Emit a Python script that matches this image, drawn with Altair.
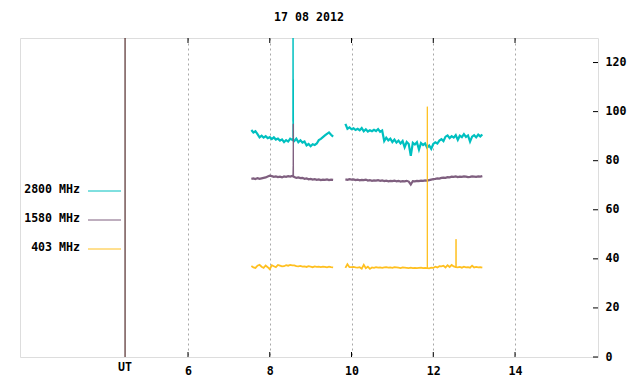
import altair as alt
import pandas as pd

TITLE = "17 08 2012"
X_TICKS = [6, 8, 10, 12, 14]
Y_TICKS = [0, 20, 40, 60, 80, 100, 120]
UT_POS = 4.46
X_DOMAIN = [1.89, 16.03]
Y_DOMAIN = [0, 130]

SERIES = ["2800 MHz", "1580 MHz", "403 MHz"]
COLORS = ["#00c0c0", "#7f5f7f", "#ffc020"]

T1 = [7.55, 7.60, 7.65, 7.70, 7.75, 7.80, 7.85, 7.90, 7.95, 8.00, 8.05, 8.10, 8.15, 8.20,
      8.25, 8.30, 8.35, 8.40, 8.45, 8.50, 8.55, 8.60, 8.65, 8.70, 8.75, 8.80, 8.85, 8.90,
      8.95, 9.00, 9.05, 9.10, 9.15, 9.20, 9.25, 9.30, 9.35, 9.40, 9.45, 9.50, 9.55]
T2 = [9.85, 9.90, 9.95, 10.00, 10.05, 10.10, 10.15, 10.20, 10.25, 10.30, 10.35, 10.40,
      10.45, 10.50, 10.55, 10.60, 10.65, 10.70, 10.75,
      10.80, 10.85, 10.90, 10.95, 11.00, 11.05, 11.10, 11.15, 11.20, 11.25, 11.30, 11.35,
      11.40, 11.45, 11.50, 11.55, 11.60, 11.65, 11.70, 11.75, 11.80,
      11.85, 11.90, 11.95, 12.00, 12.05, 12.10, 12.15, 12.20, 12.25, 12.30, 12.35, 12.40,
      12.45, 12.50, 12.55, 12.60, 12.65, 12.70, 12.75, 12.80, 12.85,
      12.90, 12.95, 13.00, 13.05, 13.10, 13.15, 13.20]

F2800_S1 = [92.5, 91.5, 92.0, 90.8, 89.5, 90.2, 89.4, 90.0, 89.2, 89.6, 88.8, 89.5, 88.6, 89.0,
            88.2, 88.7, 87.6, 88.4, 87.8, 89.0, 88.5, 88.0, 89.0, 87.5, 88.3, 87.4, 87.8, 86.2,
            86.8, 85.9, 86.7, 86.4, 87.0, 88.4, 88.9, 89.6, 90.3, 90.9, 91.5, 90.6, 89.8]
F2800_S2 = [95.0, 93.0, 93.6, 92.8, 93.2, 92.5, 93.0, 92.4, 93.3, 92.0, 92.8, 91.9, 92.4, 92.0,
            92.6, 92.1, 92.9, 91.8, 92.3,
            88.0, 89.4, 88.3, 89.0, 87.6, 88.6, 87.4, 88.2, 87.0, 88.0, 85.5, 87.6, 86.8, 82.0,
            87.3, 86.6, 87.5, 84.5, 87.2, 86.4, 87.0,
            85.3, 86.2, 84.8, 86.8, 87.5, 87.0, 88.2, 88.8, 88.0, 89.8, 90.3, 89.2, 90.0, 89.4,
            90.4, 88.5, 90.2, 89.6, 90.8, 89.7, 90.3,
            87.8, 89.8, 90.4, 89.5, 90.6, 89.9, 90.7]
F2800_SPIKE_T = [8.55, 8.565, 8.570, 8.576, 8.579, 8.583, 8.60]
F2800_SPIKE_V = [88.5, 89.5, 135.0, 96.0, 113.0, 88.5, 88.0]

F1580_S1 = [72.6, 72.8, 72.5, 72.9, 72.6, 72.8, 73.0, 73.2, 73.6, 73.9, 73.7, 73.4, 73.6, 73.3,
            73.5, 73.2, 73.6, 73.4, 73.7, 73.5, 73.8, 73.4, 73.0, 73.2, 72.9, 73.0, 72.6, 72.8,
            72.4, 72.6, 72.3, 72.5, 72.2, 72.4, 72.1, 72.3, 72.2, 72.4, 72.1, 72.3, 72.2]
F1580_S2 = [72.4, 72.2, 72.5, 72.3, 72.4, 72.1, 72.3, 72.0, 72.2, 72.1, 72.3, 71.9, 72.1, 71.8,
            72.0, 71.9, 72.1, 71.8, 72.0,
            71.7, 71.9, 71.6, 71.8, 71.7, 71.9, 71.6, 71.8, 71.5, 71.7, 71.6, 71.8, 71.5, 70.3,
            71.7, 71.6, 71.8, 71.7, 71.9, 71.8, 72.0,
            71.9, 72.1, 72.3, 72.5, 72.6, 72.8, 72.7, 73.0, 73.1, 73.0, 73.3, 73.2, 73.5, 73.4,
            73.6, 73.3, 73.5, 73.4, 73.6, 73.5, 73.3,
            73.4, 73.6, 73.5, 73.4, 73.6, 73.5, 73.7]
F1580_SPIKE_T = [8.55, 8.565, 8.570, 8.576, 8.583, 8.60]
F1580_SPIKE_V = [73.8, 73.8, 78.0, 95.0, 73.6, 73.4]

F403_S1 = [37.1, 36.5, 36.3, 37.2, 37.6, 36.8, 36.3, 37.3, 36.6, 35.8, 37.4, 37.0, 36.6, 37.5,
           37.2, 36.9, 37.0, 37.4, 37.2, 37.5, 37.3, 37.3, 37.0, 36.9, 37.1, 36.8, 36.9, 36.7,
           37.0, 36.8, 36.6, 36.9, 36.7, 36.8, 36.6, 36.8, 36.7, 36.5, 36.8, 36.6, 36.5]
F403_S2 = [36.3, 37.8, 36.6, 36.6, 36.7, 36.5, 36.4, 36.6, 36.0, 37.6, 36.2, 36.8, 35.9, 36.5,
           36.3, 36.6, 36.4, 36.5, 36.3,
           36.5, 36.6, 36.4, 36.5, 36.3, 36.6, 36.5, 36.4, 36.2, 36.5, 36.4, 36.3, 36.2, 36.4,
           36.2, 36.3, 36.2, 36.3, 36.4, 36.2, 36.3,
           36.2, 36.1, 36.4, 36.3, 36.8, 36.5, 37.0, 36.9, 37.2, 36.5, 37.4, 36.7, 37.5, 36.9,
           36.6, 36.5, 36.7, 36.4, 36.8, 36.5, 36.6,
           36.4, 37.2, 36.5, 36.7, 36.5, 36.6, 36.4]
F403_SPIKE_T = [11.852, 11.855, 11.858, 12.553, 12.557, 12.561]
F403_SPIKE_V = [36.2, 102.0, 36.3, 36.6, 48.0, 36.7]


def series_frame(s1, s2):
    rows = []
    for t, v in zip(T1, s1):
        rows.append({"t": t, "v": v, "seg": 1})
    for t, v in zip(T2, s2):
        rows.append({"t": t, "v": v, "seg": 2})
    return pd.DataFrame(rows)


def spike_frame(spike_t, spike_v):
    rows = []
    for t, v in zip(spike_t, spike_v):
        rows.append({"t": t, "v": v, "seg": int(t * 2)})
    return pd.DataFrame(rows)


frames = [
    (series_frame(F2800_S1, F2800_S2), spike_frame(F2800_SPIKE_T, F2800_SPIKE_V)),
    (series_frame(F1580_S1, F1580_S2), spike_frame(F1580_SPIKE_T, F1580_SPIKE_V)),
    (series_frame(F403_S1, F403_S2), spike_frame(F403_SPIKE_T, F403_SPIKE_V)),
]
WIDTHS = [2.2, 2.2, 1.8]

W, H = 578, 319
FONT = "DejaVu Sans Mono"
FS = 11.6

xscale = alt.Scale(domain=X_DOMAIN, nice=False, zero=False)
yscale = alt.Scale(domain=Y_DOMAIN, nice=False, zero=True)
xaxis = alt.Axis(values=X_TICKS, grid=True, gridColor="#a8a8a8", gridDash=[2, 3],
                 gridWidth=1, ticks=False, domain=False, title=None, labelPadding=8,
                 labelFlush=False, labelOverlap=False, labelFont=FONT,
                 labelFontWeight="bold", labelFontSize=FS, labelColor="black")
yaxis = alt.Axis(values=Y_TICKS, orient="right", grid=False, ticks=False, domain=False,
                 title=None, labelPadding=7, labelAlign="left", labelBaseline="middle",
                 labelFlush=False, labelOverlap=False, labelFont=FONT,
                 labelFontWeight="bold", labelFontSize=FS, labelColor="black")

X = alt.X("t:Q", scale=xscale, axis=xaxis)
Y = alt.Y("v:Q", scale=yscale, axis=yaxis)

layers = []

# UT separator line
layers.append(
    alt.Chart(pd.DataFrame({"t": [UT_POS]})).mark_rule(color="#300000", strokeWidth=1)
    .encode(x=X)
)

# inward ticks bottom/top
xt = pd.DataFrame({"t": X_TICKS})
layers.append(alt.Chart(xt).mark_rule(color="black").encode(
    x=X, y=alt.value(H), y2=alt.value(H - 5)))
layers.append(alt.Chart(xt).mark_rule(color="black").encode(
    x=X, y=alt.value(0), y2=alt.value(5)))
# inward ticks right
yt = pd.DataFrame({"v": Y_TICKS})
layers.append(alt.Chart(yt).mark_rule(color="black").encode(
    y=Y, x=alt.value(W), x2=alt.value(W - 5)))

# data lines
for (df, sp), col, sw in zip(frames, COLORS, WIDTHS):
    layers.append(
        alt.Chart(df).mark_line(color=col, strokeWidth=sw, clip=True)
        .encode(x=X, y=Y, detail="seg:N")
    )
    layers.append(
        alt.Chart(sp).mark_line(color=col, strokeWidth=1, clip=True)
        .encode(x=X, y=Y, detail="seg:N")
    )

# legend (gnuplot style, inside plot at left)
for i, (lab, col) in enumerate(zip(SERIES, COLORS)):
    ypix = 152 + 29 * i
    layers.append(
        alt.Chart(pd.DataFrame({"s": [lab]})).mark_text(
            font=FONT, fontWeight="bold", fontSize=FS, align="right", baseline="middle",
            color="black").encode(text="s:N", x=alt.value(60), y=alt.value(ypix))
    )
    layers.append(
        alt.Chart(pd.DataFrame({"s": [lab]})).mark_rule(color=col, strokeWidth=1).encode(
            x=alt.value(68), x2=alt.value(101), y=alt.value(ypix + 1))
    )

# title
layers.append(
    alt.Chart(pd.DataFrame({"s": [TITLE]})).mark_text(
        font=FONT, fontWeight="bold", fontSize=FS, align="center", baseline="middle",
        color="black").encode(text="s:N", x=alt.value(W / 2), y=alt.value(-20))
)
# UT label
layers.append(
    alt.Chart(pd.DataFrame({"s": ["UT"]})).mark_text(
        font=FONT, fontWeight="bold", fontSize=FS, align="center", baseline="middle",
        color="black").encode(text="s:N", x=alt.value(105), y=alt.value(11 + H))
)

chart = alt.layer(*layers).properties(
    width=W, height=H,
    autosize=alt.AutoSizeParams(type="none"),
    padding={"left": 12, "top": 30, "right": 34, "bottom": 26},
).configure_view(
    stroke="black", strokeWidth=1
).configure(background="white")

chart.save("out.html", embed_options={"renderer": "svg", "actions": False})
